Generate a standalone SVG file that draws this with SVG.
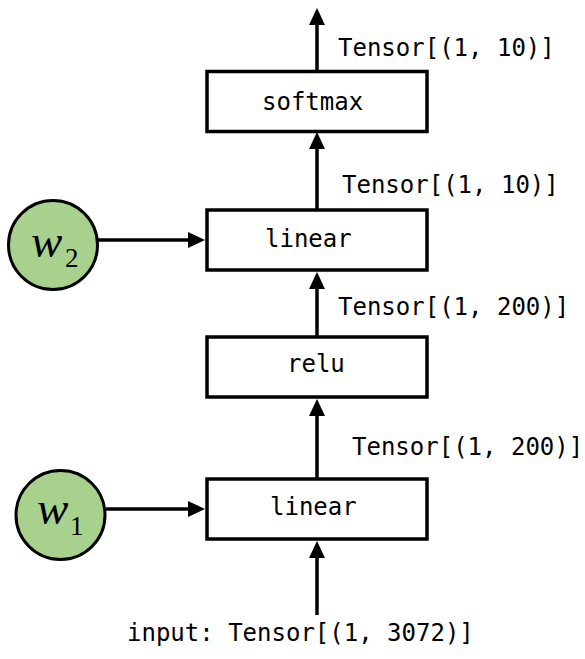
<svg xmlns="http://www.w3.org/2000/svg" width="585" height="659" viewBox="0 0 585 659">
  <style>
    .op rect { fill: #ffffff; stroke: #000000; stroke-width: 3.5; }
    .mono { font-family: "DejaVu Sans Mono", "Liberation Mono", monospace; font-size: 24px; fill: #000000; }
    .param circle { fill: #a9d18e; stroke: #000000; stroke-width: 3; }
    .math { font-family: "Liberation Serif", "DejaVu Serif", serif; fill: #000000; }
    .math .v { font-style: italic; font-size: 47px; }
    .math .s { font-size: 27px; }
    .edge { stroke: #000000; stroke-width: 3.5; fill: none; marker-end: url(#head); }
  </style>
  <defs>
    <marker id="head" markerUnits="userSpaceOnUse" markerWidth="17" markerHeight="16" refX="2" refY="8" orient="auto">
      <path d="M0,0 L17,8 L0,16 Z" fill="#000000"/>
    </marker>
  </defs>

  <rect width="585" height="659" fill="#ffffff"/>

  <!-- connectors -->
  <g id="connectors">
    <line class="edge" x1="317" y1="615" x2="317" y2="556"/>
    <line class="edge" x1="317" y1="479" x2="317" y2="414"/>
    <line class="edge" x1="317" y1="337" x2="317" y2="287"/>
    <line class="edge" x1="317" y1="210" x2="317" y2="147"/>
    <line class="edge" x1="317" y1="71" x2="317" y2="23"/>
    <line class="edge" x1="98" y1="240" x2="190" y2="240"/>
    <line class="edge" x1="106" y1="509" x2="190" y2="509"/>
  </g>

  <!-- edge labels -->
  <g id="labels" class="mono">
    <text x="338" y="56">Tensor[(1, 10)]</text>
    <text x="342" y="193">Tensor[(1, 10)]</text>
    <text x="338" y="315">Tensor[(1, 200)]</text>
    <text x="352" y="455">Tensor[(1, 200)]</text>
    <text x="127" y="641">input: Tensor[(1, 3072)]</text>
  </g>

  <!-- operations -->
  <g id="softmax" class="op">
    <rect x="207" y="71.5" width="220" height="60"/>
    <text class="mono" x="262" y="110">softmax</text>
  </g>
  <g id="linear2" class="op">
    <rect x="207" y="210" width="220" height="60"/>
    <text class="mono" x="265" y="247">linear</text>
  </g>
  <g id="relu" class="op">
    <rect x="207" y="337" width="220" height="60"/>
    <text class="mono" x="287" y="372">relu</text>
  </g>
  <g id="linear1" class="op">
    <rect x="207" y="479" width="220" height="60"/>
    <text class="mono" x="270" y="515">linear</text>
  </g>

  <!-- weight parameters -->
  <g id="w2" class="param">
    <circle cx="53" cy="245" r="44.5"/>
    <text class="math"><tspan class="v" x="31" y="257">w</tspan><tspan class="s" x="65" y="267">2</tspan></text>
  </g>
  <g id="w1" class="param">
    <circle cx="60.5" cy="515" r="44.5"/>
    <text class="math"><tspan class="v" x="37" y="524">w</tspan><tspan class="s" x="70" y="535">1</tspan></text>
  </g>
</svg>
